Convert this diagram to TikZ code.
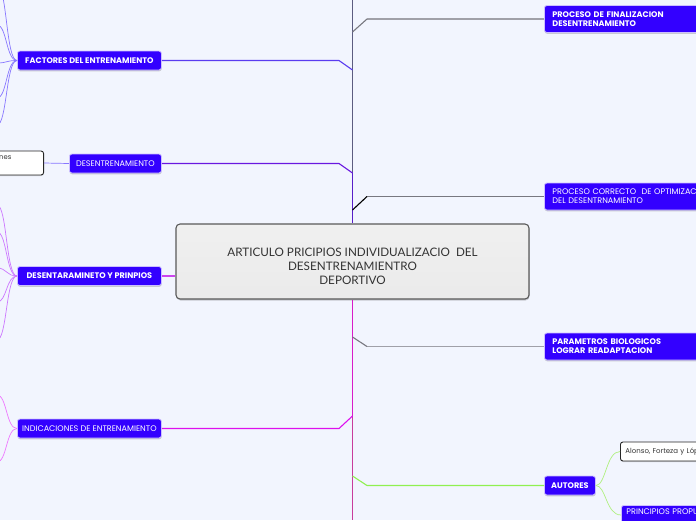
\documentclass[tikz,border=0pt]{standalone}
\usepackage{fontspec}
\setmainfont{Poppins}
\newfontfamily\mainfam{Lato}
\usetikzlibrary{shadows}

\definecolor{bgcol}{RGB}{242,245,254}
\definecolor{nodeblue}{RGB}{51,0,255}
\definecolor{trunkgray}{RGB}{92,92,128}
\definecolor{trunkpurple}{RGB}{88,30,200}
\definecolor{trunkmag}{RGB}{216,28,200}
\definecolor{trunkrose}{RGB}{200,60,156}
\definecolor{linefact}{RGB}{90,60,240}
\definecolor{linedes}{RGB}{106,24,224}
\definecolor{linedyp}{RGB}{204,68,238}
\definecolor{lineind}{RGB}{221,17,238}
\definecolor{linegray}{RGB}{160,160,168}
\definecolor{linedark}{RGB}{120,120,128}
\definecolor{lineaut}{RGB}{144,240,80}
\definecolor{subfact}{RGB}{136,119,255}
\definecolor{subdyp}{RGB}{204,119,255}
\definecolor{subind}{RGB}{238,119,255}
\definecolor{subaut}{RGB}{176,240,128}

\tikzset{
  bluebox/.style={draw=nodeblue!25, line width=0.8pt, fill=nodeblue, rounded corners=2.5pt,
    text=white, inner sep=0pt,
    drop shadow={shadow xshift=0.3pt, shadow yshift=-1.3pt, opacity=0.3, fill=black!60}},
  boldtxt/.style={font=\fontsize{8.1}{9}\selectfont\bfseries},
  thintxt/.style={font=\fontsize{8.1}{9}\selectfont},
  whitebox/.style={draw=black!85, line width=0.9pt, fill=white, rounded corners=2.5pt,
    inner sep=0pt, font=\fontsize{7}{8}\selectfont, text=black!80,
    drop shadow={shadow xshift=0.3pt, shadow yshift=-1pt, opacity=0.25, fill=black!60}},
  centerbox/.style={draw=black!65, line width=1.1pt, top color=black!6, bottom color=black!8,
    middle color=black!7, rounded corners=4pt, text=black!80, align=center,
    font=\mainfam\fontsize{11.7}{14}\selectfont,
    drop shadow={shadow xshift=0.5pt, shadow yshift=-1.5pt, opacity=0.3, fill=black!60}},
  trunk/.style={line width=1.8pt},
  branch/.style={line width=1.1pt},
  sub/.style={line width=0.7pt},
}

\begin{document}
\begin{tikzpicture}[x=1pt,y=-1pt]
\useasboundingbox (0,0) rectangle (696,520);
\fill[bgcol] (0,0) rectangle (696,520);
\clip (0,0) rectangle (696,520);

\coordinate (ttop) at (352.5,0);
\coordinate (tmid) at (352.5,173);
\coordinate (tlow) at (352.5,416);
\coordinate (tbot) at (352.5,520);

\node[centerbox, minimum width=353, minimum height=75, text height=46pt, text depth=-4pt] (main) at (352.5,261.5)
  {ARTICULO PRICIPIOS INDIVIDUALIZACIO\ \ DEL\\DESENTRENAMIENTRO\\DEPORTIVO};

\draw[trunk, trunkgray] (ttop) -- (tmid);
\draw[trunk, trunkpurple] (tmid) -- (main.north);
\draw[trunk, trunkmag] (main.south) -- (tlow);
\draw[trunk, trunkrose] (tlow) -- (tbot);

\node[bluebox, boldtxt, minimum width=144, minimum height=19, anchor=west] (fact) at (17,60.5) {FACTORES DEL ENTRENAMIENTO};
\node[bluebox, thintxt, minimum width=92, minimum height=19, anchor=west] (des) at (69,163.5) {DESENTRENAMIENTO};
\node[bluebox, boldtxt, minimum width=144, minimum height=19, anchor=west] (dyp) at (17,276) {DESENTARAMINETO Y PRINPIOS};
\node[bluebox, thintxt, minimum width=144, minimum height=19, anchor=west] (ind) at (17,428.5) {INDICACIONES DE ENTRENAMIENTO};

\node[whitebox, minimum width=84, minimum height=24, anchor=east] (nesbox) at (44,163) {};
\node[font=\fontsize{6.8}{8}\selectfont, text=black!80, anchor=west, inner sep=0pt] (nestxt) at (-1,158) {nes};

\node[bluebox, boldtxt, minimum width=200, minimum height=27, anchor=west, text width=184, align=left, inner xsep=8pt] (fin) at (544,19) {PROCESO DE FINALIZACION\\DESENTRENAMIENTO};
\node[bluebox, thintxt, minimum width=200, minimum height=27, anchor=west, text width=184, align=left, inner xsep=8pt] (cor) at (544,196.5) {PROCESO CORRECTO\ \ DE OPTIMIZACION\\DEL DESENTRNAMIENTO};
\node[bluebox, boldtxt, minimum width=200, minimum height=27, anchor=west, text width=184, align=left, inner xsep=8pt] (par) at (544,346.5) {PARAMETROS BIOLOGICOS\\LOGRAR READAPTACION};
\node[bluebox, boldtxt, minimum width=51, minimum height=19, anchor=west] (aut) at (544,485.5) {AUTORES};
\node[whitebox, minimum width=110, minimum height=19, anchor=west, text width=100, align=left, inner xsep=5pt] (alo) at (620,451.5) {Alonso, Forteza y López};
\node[bluebox, thintxt, anchor=north west, text width=100, align=left, inner xsep=5pt, inner ysep=3pt, text height=6pt, text depth=22pt] (pri) at (621,505) {PRINCIPIOS PROPU};

\coordinate (kfact) at (339,60.5);
\coordinate (jfact) at (352.5,70);
\coordinate (kdes) at (339,163.5);
\coordinate (kind) at (339,428.5);
\coordinate (kfin) at (367,19);
\coordinate (jfin) at (352.5,32);
\coordinate (kcor) at (367,196.5);
\coordinate (jcor) at (352.5,210);
\coordinate (kpar) at (367,346.5);
\coordinate (jpar) at (352.5,337);
\coordinate (kaut) at (367,485.5);
\coordinate (jaut) at (352.5,476);

\draw[branch, linefact] (fact.east) -- (kfact) -- (jfact);
\draw[branch, linedes] (des.east) -- (kdes) -- (tmid);
\draw[branch, linedyp] (dyp.east) -- (dyp.east -| main.west);
\draw[branch, lineind] (ind.east) -- (kind) -- (tlow);
\draw[branch, linegray] (fin.west) -- (kfin);
\draw[branch, linedark] (kfin) -- (jfin);
\draw[branch, linedark] (cor.west) -- (kcor);
\draw[branch, black] (kcor) -- (jcor);
\draw[branch, linegray] (par.west) -- (kpar);
\draw[branch, linedark] (kpar) -- (jpar);
\draw[branch, lineaut] (aut.west) -- (kaut) -- (jaut);

\draw[sub, subfact] (nesbox.east) -- (des.west);

\foreach \y in {-15,25,63,98,125}
  \draw[sub, subfact] (fact.west) .. controls (6,60.5) and (7,\y) .. (-3,\y);
\foreach \y in {205,232,268,302,340}
  \draw[sub, subdyp] (dyp.west) .. controls (6,276) and (7,\y) .. (-3,\y);
\foreach \y in {395,462}
  \draw[sub, subind] (ind.west) .. controls (6,428.5) and (7,\y) .. (-3,\y);

\draw[sub, subaut] (aut.east) .. controls (606,485.5) and (606,451.5) .. (alo.west);
\draw[sub, subaut] (aut.east) .. controls (606,485.5) and (606,515) .. (pri.west |- 0,515);
\end{tikzpicture}
\end{document}
